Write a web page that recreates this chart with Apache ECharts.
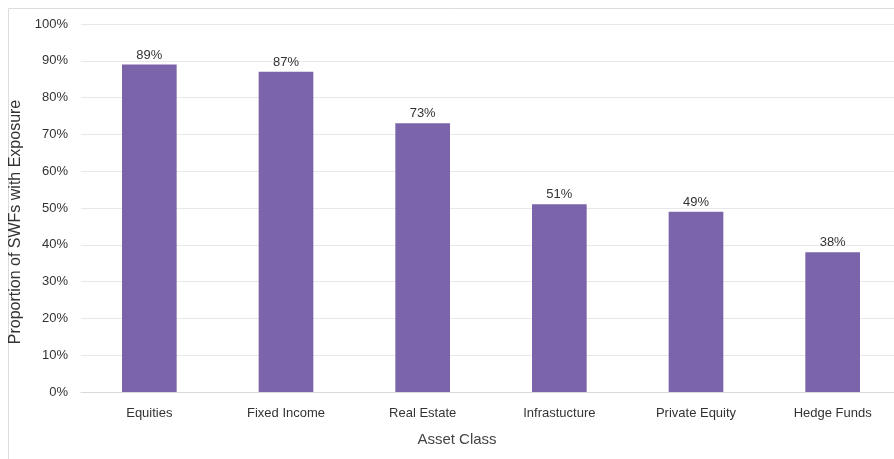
<!DOCTYPE html>
<html>
<head>
<meta charset="utf-8">
<script src="https://cdn.jsdelivr.net/npm/echarts@6/dist/echarts.min.js"></script>
<style>
html,body{margin:0;padding:0;background:#fff;}
#c{width:894px;height:459px;}
</style>
</head>
<body>
<div id="c"></div>
<script>
const categories = ['Equities', 'Fixed Income', 'Real Estate', 'Infrastucture', 'Private Equity', 'Hedge Funds'];
const values = [89, 87, 73, 51, 49, 38];
const yTicks = [0, 10, 20, 30, 40, 50, 60, 70, 80, 90, 100];

const chart = echarts.init(document.getElementById('c'));
const font = '"Liberation Sans", Arial, sans-serif';
chart.setOption({
  animation: false,
  textStyle: { fontFamily: font },
  graphic: [{
    type: 'rect',
    shape: { x: 8.5, y: 8.5, width: 900, height: 470 },
    style: { fill: 'none', stroke: '#dcdcdc', lineWidth: 1 },
    silent: true
  }],
  grid: { left: 81, top: 24, width: 820, bottom: 67, containLabel: false, outerBoundsMode: 'none' },
  xAxis: {
    type: 'category',
    data: categories,
    axisLine: { show: true, lineStyle: { color: '#d9d9d9', width: 1 } },
    axisTick: { show: false },
    axisLabel: { color: '#333', fontSize: 13, margin: 15, fontFamily: font },
    name: 'Asset Class',
    nameLocation: 'middle',
    nameGap: 40,
    nameTextStyle: { color: '#444', fontSize: 15, fontFamily: font, padding: [0, 68, 0, 0] }
  },
  yAxis: {
    type: 'value',
    min: yTicks[0],
    max: yTicks[yTicks.length - 1],
    interval: 10,
    axisLine: { show: false },
    axisTick: { show: false },
    splitLine: { show: true, lineStyle: { color: '#e8e8e8', width: 1 } },
    axisLabel: { color: '#333', fontSize: 13, margin: 13, formatter: v => v + '%', fontFamily: font },
    name: 'Proportion of SWFs with Exposure',
    nameLocation: 'middle',
    nameGap: 57,
    nameMoveOverlap: false,
    nameTextStyle: { color: '#333', fontSize: 16, fontFamily: font, padding: [0, 28, 0, 0] }
  },
  series: [{
    type: 'bar',
    data: values,
    barWidth: '40%',
    itemStyle: { color: '#7b64a9' },
    label: { show: true, position: 'top', distance: 3, color: '#333', fontSize: 13, formatter: p => p.value + '%', fontFamily: font }
  }]
});
</script>
</body>
</html>
